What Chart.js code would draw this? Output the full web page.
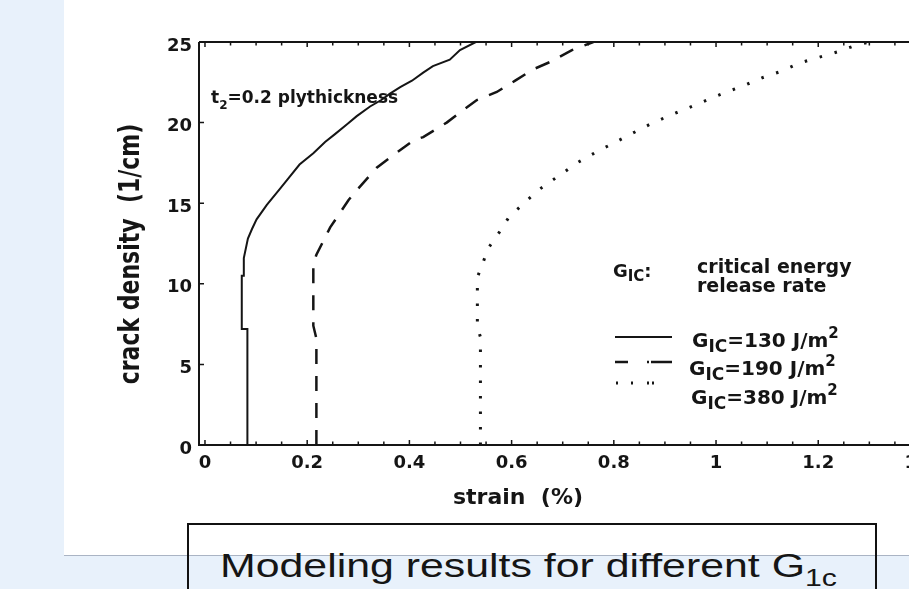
<!DOCTYPE html>
<html>
<head>
<meta charset="utf-8">
<script src="https://cdn.jsdelivr.net/npm/chart.js@4/dist/chart.umd.min.js"></script>
<style>
  html, body { margin:0; padding:0; width:909px; height:589px; overflow:hidden; background:#e8f1fb; }
  #panel { position:absolute; left:64px; top:0; width:845px; height:555px; background:#fff; border-bottom:1px solid #aab4c4; }
  #wrap { position:absolute; left:0; top:0; width:946px; height:520px; }
  #cap { position:absolute; left:187px; top:523px; width:690px; height:90px; border:2px solid #111; box-sizing:border-box; }
  #capText { position:absolute; left:220px; top:549px; font-family:"Liberation Sans", Arial, sans-serif; font-size:34px; line-height:32px;
             color:#151515; white-space:nowrap; transform:scaleX(1.26); transform-origin:left top; }
  #capText .sub { font-size:24px; position:relative; top:9px; }
</style>
</head>
<body>
<div id="panel"></div>
<div id="wrap"><canvas id="c" width="946" height="520"></canvas></div>
<div id="cap"></div>
<div id="capText">Modeling results for different G<span class="sub">1c</span></div>
<script>
// ---- data ----
const strain130  = [0.083,0.083,0.072,0.072,0.076,0.076,0.084,0.092,0.101,0.121,0.147,0.162,0.185,0.212,0.235,0.255,0.278,0.297,0.323,0.345,0.362,0.382,0.405,0.427,0.446,0.479,0.499,0.53];
const density130 = [0,7.2,7.2,10.5,10.5,11.6,12.8,13.4,14.0,14.9,15.9,16.5,17.4,18.1,18.8,19.3,19.9,20.4,21.0,21.4,21.8,22.2,22.6,23.1,23.5,23.9,24.5,25.0];

const strain190  = [0.218,0.218,0.212,0.212,0.218,0.245,0.281,0.294,0.336,0.365,0.391,0.408,0.427,0.473,0.502,0.532,0.571,0.607,0.642,0.678,0.718,0.76];
const density190 = [0,6.6,7.4,11.2,11.8,13.5,15.2,15.7,17.2,17.9,18.5,18.9,19.1,20.0,20.7,21.4,21.9,22.6,23.3,23.8,24.5,25.0];

const strain380  = [0.539,0.539,0.533,0.533,0.545,0.554,0.574,0.594,0.624,0.656,0.697,0.728,0.767,0.804,0.834,0.871,0.906,0.945,0.982,1.021,1.055,1.092,1.129,1.164,1.196,1.239,1.274,1.30];
const density380 = [0,6.7,7.3,10.4,11.4,12.2,13.1,14.1,15.0,15.9,16.8,17.5,18.2,18.8,19.3,19.9,20.4,20.9,21.4,21.9,22.3,22.8,23.2,23.7,24.0,24.4,24.8,25.0];

const xTicks      = [0, 0.2, 0.4, 0.6, 0.8, 1, 1.2, 1.4];
const xTickLabels = ['0','0.2','0.4','0.6','0.8','1','1.2','1.4'];
const yTicks      = [0, 5, 10, 15, 20, 25];
const yTickLabels = ['0','5','10','15','20','25'];

const seriesLabels = ['GIC=130 J/m2', 'GIC=190 J/m2', 'GIC=380 J/m2'];
const xTitle = 'strain  (%)';
const yTitle = 'crack density  (1/cm)';

const toPts = (xs, ys) => xs.map((v, i) => ({x: v, y: ys[i]}));
const INK = '#151515';
const FONT = '"DejaVu Sans", sans-serif';

function rich(ctx, x, y, parts) {
  let cx = x;
  for (const p of parts) {
    ctx.font = 'bold ' + p[1] + 'px ' + FONT;
    ctx.fillText(p[0], cx, y + p[2]);
    cx += ctx.measureText(p[0]).width;
  }
}

const decor = {
  id: 'decor',
  afterDraw(chart) {
    const {ctx, chartArea: a, scales: {x, y}} = chart;
    ctx.save();
    ctx.strokeStyle = INK; ctx.fillStyle = INK;
    // frame
    ctx.lineWidth = 2;
    ctx.beginPath();
    ctx.moveTo(a.left, a.top); ctx.lineTo(a.left, a.bottom); ctx.lineTo(a.right, a.bottom);
    ctx.moveTo(a.left, a.top); ctx.lineTo(a.right, a.top);
    ctx.stroke();
    // inward tick marks
    ctx.lineWidth = 1.5;
    ctx.beginPath();
    for (let k = 0; k <= 28; k++) {
      const px = x.getPixelForValue(k * 0.05);
      const len = (k % 4 === 0) ? 5 : 3.5;
      ctx.moveTo(px, a.bottom); ctx.lineTo(px, a.bottom - len);
      ctx.moveTo(px, a.top); ctx.lineTo(px, a.top + len);
    }
    for (const v of yTicks) {
      const py = y.getPixelForValue(v);
      ctx.moveTo(a.left, py); ctx.lineTo(a.left + 5, py);
    }
    ctx.stroke();

    // axis titles
    ctx.textBaseline = 'alphabetic';
    ctx.font = 'bold 22px ' + FONT;
    ctx.textAlign = 'left';
    ctx.fillText(xTitle, 453, 504);
    ctx.save();
    ctx.translate(139, 254);
    ctx.scale(1.25, 1);
    ctx.rotate(-Math.PI / 2);
    ctx.textAlign = 'center';
    ctx.font = 'bold 22px ' + FONT;
    ctx.fillText(yTitle, 0, 0);
    ctx.restore();

    // annotation
    ctx.textAlign = 'left';
    rich(ctx, 211, 103, [['t',17,0],['2',12,6],['=0.2 plythickness',17,0]]);
    rich(ctx, 613, 277, [['G',18,0],['IC',15,4],[':',18,0]]);
    ctx.font = 'bold 19px ' + FONT;
    ctx.fillText('critical energy', 697, 273);
    ctx.fillText('release rate', 697, 292);

    // legend samples
    ctx.lineWidth = 2;
    ctx.beginPath(); ctx.moveTo(615, 337); ctx.lineTo(672, 337); ctx.stroke();
    ctx.lineWidth = 2.5;
    ctx.setLineDash([13, 19, 2, 2, 21]);
    ctx.beginPath(); ctx.moveTo(615, 362); ctx.lineTo(672, 362); ctx.stroke();
    ctx.lineWidth = 3;
    ctx.setLineDash([2, 13, 2, 14, 2, 3, 2, 40]);
    ctx.beginPath(); ctx.moveTo(616, 383); ctx.lineTo(656, 383); ctx.stroke();
    ctx.setLineDash([]);

    const rows = [[692, 347, '=130 J/m'], [689, 375, '=190 J/m'], [691, 404, '=380 J/m']];
    rows.forEach(r => rich(ctx, r[0], r[1], [['G',20,0],['IC',17,5],[r[2],20,0],['2',15,-9]]));
    ctx.restore();
  }
};

new Chart(document.getElementById('c'), {
  type: 'scatter',
  data: {
    datasets: [
      { label: seriesLabels[0], data: toPts(strain130, density130), showLine: true, pointRadius: 0,
        borderColor: INK, borderWidth: 2, tension: 0 },
      { label: seriesLabels[1], data: toPts(strain190, density190), showLine: true, pointRadius: 0,
        borderColor: INK, borderWidth: 2.5, borderDash: [15, 12], tension: 0 },
      { label: seriesLabels[2], data: toPts(strain380, density380), showLine: true, pointRadius: 0,
        borderColor: INK, borderWidth: 3, borderDash: [2.5, 13], tension: 0 }
    ]
  },
  options: {
    responsive: false,
    animation: false,
    events: [],
    layout: { padding: { left: 0, top: 42, right: 0, bottom: 0 } },
    plugins: { legend: { display: false }, tooltip: { enabled: false } },
    scales: {
      x: {
        type: 'linear', min: -0.0117, max: 1.45,
        grid: { display: false, drawTicks: false }, border: { display: false },
        ticks: { color: INK, padding: 8, maxRotation: 0, autoSkip: false,
                 font: { family: 'DejaVu Sans', weight: 'bold', size: 18 },
                 callback: (v, i) => xTickLabels[i] },
        afterBuildTicks: s => { s.ticks = xTicks.map(v => ({ value: v })); },
        afterFit: s => { s.height = 75; s.paddingLeft = 0; s.paddingRight = 0; }
      },
      y: {
        type: 'linear', min: 0, max: 25,
        grid: { display: false, drawTicks: false }, border: { display: false },
        ticks: { color: INK, padding: 7, labelOffset: 4, autoSkip: false,
                 font: { family: 'DejaVu Sans', weight: 'bold', size: 18 },
                 callback: (v, i) => yTickLabels[i] },
        afterBuildTicks: s => { s.ticks = yTicks.map(v => ({ value: v })); },
        afterFit: s => { s.width = 199; s.paddingTop = 0; s.paddingBottom = 0; }
      }
    }
  },
  plugins: [decor]
});
</script>
</body>
</html>
